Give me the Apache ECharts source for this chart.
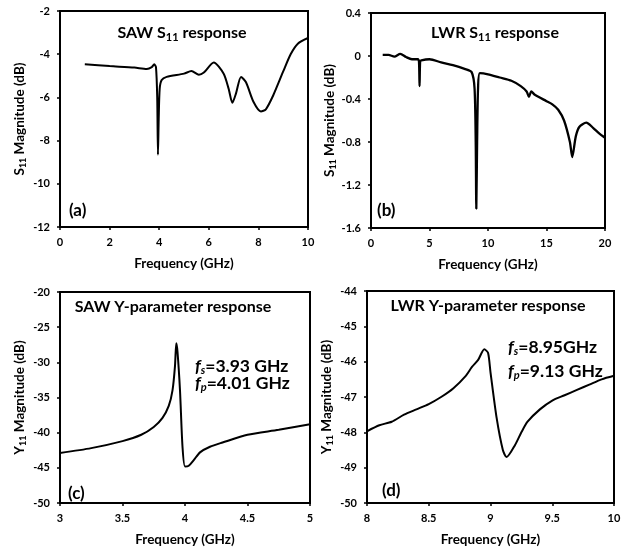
<!DOCTYPE html>
<html><head><meta charset="utf-8">
<script src="https://cdn.jsdelivr.net/npm/echarts@6/dist/echarts.min.js"></script>
<style>html,body{margin:0;padding:0;background:#fff}#c{width:624px;height:548px}</style>
</head><body><div id="c"></div>
<script>
// (a) SAW S11
const sawS11Freq = [1,2,3,3.5,3.7,3.8,3.87,3.92,3.95,3.98,4.02,4.1,4.3,5,5.3,5.6,5.8,6.2,6.6,6.8,6.95,7.1,7.3,7.5,7.8,8.1,8.3,8.6,9,9.3,9.6,10];
const sawS11Mag  = [-4.47,-4.55,-4.62,-4.68,-4.6,-4.47,-4.6,-6,-8.65,-7,-5.6,-5.2,-5.05,-4.9,-4.78,-4.95,-4.85,-4.38,-4.9,-5.6,-6.25,-5.8,-5.05,-5.3,-6.2,-6.65,-6.55,-5.9,-4.8,-4.0,-3.5,-3.25];
// (b) LWR S11
const lwrS11Freq = [1,1.5,2,2.5,3,3.5,4,4.1,4.15,4.2,4.3,5,6,7,8,8.6,8.85,8.95,9.0,9.07,9.15,9.3,10,11,12,12.8,13.3,13.5,13.7,14,15,15.5,16,16.5,17,17.2,17.5,17.8,18.4,19,19.5,20];
const lwrS11Mag  = [0.01,0.01,-0.005,0.02,-0.01,-0.03,-0.03,-0.05,-0.28,-0.05,-0.04,-0.03,-0.06,-0.085,-0.12,-0.15,-0.3,-0.8,-1.42,-0.8,-0.3,-0.16,-0.17,-0.2,-0.23,-0.28,-0.33,-0.38,-0.33,-0.36,-0.42,-0.45,-0.5,-0.6,-0.8,-0.94,-0.75,-0.66,-0.62,-0.67,-0.72,-0.76];
// (c) SAW Y11
const sawYFreq = [3,3.25,3.5,3.65,3.75,3.82,3.87,3.9,3.92,3.93,3.94,3.96,3.98,4.0,4.03,4.07,4.12,4.2,4.3,4.5,4.75,5];
const sawYMag  = [-42.9,-42.2,-41.2,-40.3,-39.2,-37.9,-36.2,-34.0,-30.5,-27.3,-28.5,-34,-42,-44.8,-44.7,-43.9,-42.8,-42.0,-41.4,-40.3,-39.6,-38.8];
// (d) LWR Y11
const lwrYFreq = [8,8.1,8.2,8.3,8.4,8.5,8.6,8.7,8.8,8.85,8.9,8.95,8.98,9.0,9.05,9.1,9.13,9.2,9.25,9.3,9.4,9.5,9.6,9.7,9.8,9.9,10];
const lwrYMag  = [-47.97,-47.8,-47.7,-47.5,-47.35,-47.2,-47.0,-46.75,-46.4,-46.15,-45.95,-45.65,-45.75,-46.3,-47.6,-48.5,-48.7,-48.35,-48.0,-47.7,-47.35,-47.1,-46.95,-46.8,-46.65,-46.5,-46.4];

const FONT = 'Lato';
const pairs = (xs, ys) => xs.map((x, i) => [x, ys[i]]);

const grids = [
  {left: 60, top: 11, width: 248, height: 216},
  {left: 371, top: 13, width: 234, height: 215},
  {left: 60, top: 292, width: 250, height: 212},
  {left: 367, top: 291, width: 247, height: 213}
].map(g => Object.assign({show: true, borderColor: '#000', borderWidth: 2, backgroundColor: 'transparent'}, g));

const richName = {
  a: {fontFamily: FONT, fontWeight: 'bold', fontSize: 13.5, color: '#000'},
  sub: {fontFamily: FONT, fontWeight: 'bold', fontSize: 9, color: '#000', padding: [7, 0, 0, 0]}
};

function xAx(i, min, max, interval) {
  return {
    type: 'value', gridIndex: i, min, max, interval,
    name: 'Frequency (GHz)', nameLocation: 'middle', nameGap: 30,
    nameTextStyle: {fontFamily: FONT, fontWeight: 'bold', fontSize: 13.5, color: '#000'},
    axisLine: {show: true, onZero: false, lineStyle: {color: '#000', width: 2}},
    axisTick: {show: true, inside: false, length: 3, lineStyle: {color: '#000', width: 1.5}},
    axisLabel: {fontFamily: FONT, fontWeight: 'bold', fontSize: 11, color: '#000', margin: 10},
    splitLine: {show: false}
  };
}
function yAx(i, min, max, interval, sym, decimals) {
  return {
    type: 'value', gridIndex: i, min, max, interval,
    name: '{a|' + sym + '}{sub|11}{a| Magnitude (dB)}', nameLocation: 'middle', nameGap: 32, nameRotate: 90,
    nameTextStyle: {rich: richName},
    axisLine: {show: true, onZero: false, lineStyle: {color: '#000', width: 2}},
    axisTick: {show: true, inside: false, length: 3, lineStyle: {color: '#000', width: 1.5}},
    axisLabel: {fontFamily: FONT, fontWeight: 'bold', fontSize: 11, color: '#000', margin: 10,
      formatter: v => decimals ? (Math.abs(v) < 1e-9 ? '0' : v.toFixed(decimals)) : String(Math.round(v))},
    splitLine: {show: false}
  };
}

function line(i, data, w) {
  return {type: 'line', xAxisIndex: i, yAxisIndex: i, data, showSymbol: false, smooth: 0.25,
    lineStyle: {color: '#000', width: w || 2}, silent: true, animation: false};
}

function txt(x, y, text, size, align, rich) {
  return {type: 'text', x, y, silent: true, style: Object.assign({text, font: 'bold ' + size + 'px ' + FONT, fill: '#000', align: align || 'center', verticalAlign: 'middle'}, rich ? {rich} : {})};
}
const richTitle = {
  t: {fontFamily: FONT, fontWeight: 'bold', fontSize: 16, color: '#000'},
  s: {fontFamily: FONT, fontWeight: 'bold', fontSize: 11, color: '#000', padding: [8, 0, 0, 0]}
};
const richF = {
  f: {fontFamily: FONT, fontWeight: 'bold', fontStyle: 'italic', fontSize: 17.5, color: '#000'},
  s: {fontFamily: FONT, fontWeight: 'bold', fontStyle: 'italic', fontSize: 11, color: '#000', padding: [8, 0, 0, 0]},
  t: {fontFamily: FONT, fontWeight: 'bold', fontSize: 17.5, color: '#000'}
};

const chart = echarts.init(document.getElementById('c'), null, {renderer: 'canvas'});
chart.setOption({
  animation: false,
  backgroundColor: '#fff',
  grid: grids,
  xAxis: [xAx(0, 0, 10, 2), xAx(1, 0, 20, 5), xAx(2, 3, 5, 0.5), xAx(3, 8, 10, 0.5)],
  yAxis: [yAx(0, -12, -2, 2, 'S', 0), yAx(1, -1.6, 0.4, 0.4, 'S', 1), yAx(2, -50, -20, 5, 'Y', 0), yAx(3, -50, -44, 1, 'Y', 0)],
  series: [
    line(0, pairs(sawS11Freq, sawS11Mag)),
    line(1, pairs(lwrS11Freq, lwrS11Mag), 2.3),
    line(2, pairs(sawYFreq, sawYMag)),
    line(3, pairs(lwrYFreq, lwrYMag))
  ],
  graphic: [
    txt(182, 33, '{t|SAW S}{s|11}{t| response}', 16, 'center', richTitle),
    txt(495, 33, '{t|LWR S}{s|11}{t| response}', 16, 'center', richTitle),
    txt(173, 307, 'SAW Y-parameter response', 16),
    txt(488, 306, 'LWR Y-parameter response', 16),
    txt(69, 211, '(a)', 17, 'left'),
    txt(377, 211, '(b)', 17, 'left'),
    txt(68, 494, '(c)', 17, 'left'),
    txt(382, 491, '(d)', 17, 'left'),
    txt(195, 366, '{f|f}{s|s}{t|=3.93 GHz}', 17, 'left', richF),
    txt(195, 383, '{f|f}{s|p}{t|=4.01 GHz}', 17, 'left', richF),
    txt(508, 347, '{f|f}{s|s}{t|=8.95GHz}', 17, 'left', richF),
    txt(508, 371, '{f|f}{s|p}{t|=9.13 GHz}', 17, 'left', richF)
  ]
});
</script></body></html>
